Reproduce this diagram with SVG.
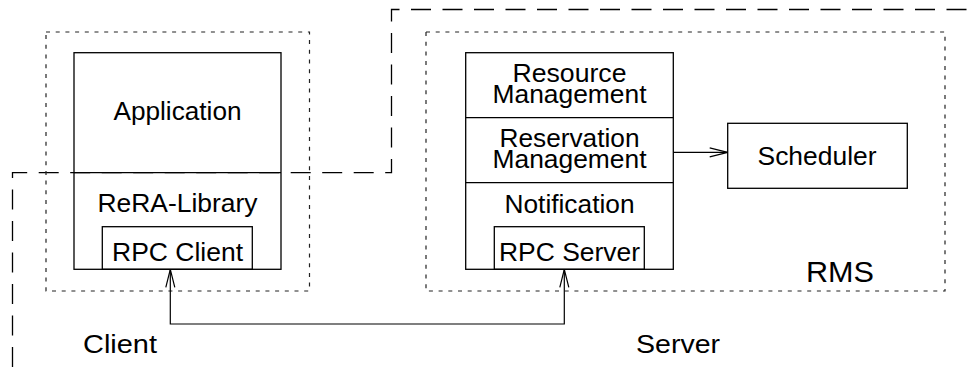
<svg xmlns="http://www.w3.org/2000/svg" width="972" height="367" viewBox="0 0 972 367">
  <style>
    .box { fill: none; stroke: #000; stroke-width: 1.3; }
    .dot { fill: none; stroke: #222; stroke-width: 1.2; stroke-dasharray: 4 5.7; }
    .dash { fill: none; stroke: #000; stroke-width: 1.3; stroke-dasharray: 20 11.5; }
    .conn { fill: none; stroke: #000; stroke-width: 1.2; }
    text { font-family: "Liberation Sans", Arial, Helvetica, sans-serif; font-size: 25px; fill: #000; text-anchor: middle; }
  </style>
  <defs>
    <marker id="open" viewBox="0 0 20 12" refX="19" refY="6" markerWidth="20" markerHeight="12" markerUnits="userSpaceOnUse" orient="auto-start-reverse">
      <path d="M1,1.5 L19,6 L1,10.5" fill="none" stroke="#000" stroke-width="1.2"/>
    </marker>
  </defs>

  <!-- Machine boundary (long dashes) -->
  <path class="dash" d="M12.5,367 L12.5,172.7 L391.5,172.7 L391.5,9.5 L972,9.5"/>

  <!-- Client side -->
  <g id="client-area">
    <rect class="dot" x="46" y="32" width="263.5" height="259"/>
    <text x="120" y="352.7" textLength="74" lengthAdjust="spacingAndGlyphs">Client</text>
  </g>
  <g id="application">
    <rect class="box" x="74" y="52.7" width="207" height="216.6"/>
    <line class="box" x1="74" y1="172.7" x2="281" y2="172.7" stroke-width="1.8"/>
    <text x="177.5" y="120" textLength="128" lengthAdjust="spacingAndGlyphs">Application</text>
    <text x="177.5" y="212.3" textLength="160" lengthAdjust="spacingAndGlyphs">ReRA-Library</text>
  </g>
  <g id="rpc-client">
    <rect class="box" x="102.3" y="226.7" width="150" height="42.6"/>
    <text x="177.5" y="260.7" textLength="131" lengthAdjust="spacingAndGlyphs">RPC Client</text>
  </g>

  <!-- Server side -->
  <g id="rms">
    <rect class="dot" x="426" y="32" width="519" height="259"/>
    <text x="840" y="281.7" style="font-size:30px" textLength="68" lengthAdjust="spacingAndGlyphs">RMS</text>
  </g>
  <g id="server-label">
    <text x="678" y="352.7" textLength="84" lengthAdjust="spacingAndGlyphs">Server</text>
  </g>
  <g id="rms-stack">
    <rect class="box" x="465.7" y="52.7" width="207.6" height="216.6"/>
    <line class="box" x1="465.7" y1="117.7" x2="673.3" y2="117.7"/>
    <line class="box" x1="465.7" y1="182.7" x2="673.3" y2="182.7"/>
    <text x="569.5" y="81.7" textLength="114" lengthAdjust="spacingAndGlyphs">Resource</text>
    <text x="569.5" y="103.3" textLength="154" lengthAdjust="spacingAndGlyphs">Management</text>
    <text x="569.5" y="146.7" textLength="140" lengthAdjust="spacingAndGlyphs">Reservation</text>
    <text x="569.5" y="168.3" textLength="154" lengthAdjust="spacingAndGlyphs">Management</text>
    <text x="569.5" y="212.7" textLength="130" lengthAdjust="spacingAndGlyphs">Notification</text>
  </g>
  <g id="rpc-server">
    <rect class="box" x="494.3" y="226.7" width="150" height="42.6"/>
    <text x="569.5" y="260.7" textLength="141" lengthAdjust="spacingAndGlyphs">RPC Server</text>
  </g>
  <g id="scheduler">
    <rect class="box" x="727.7" y="123.3" width="179.6" height="65"/>
    <text x="817" y="165" textLength="119" lengthAdjust="spacingAndGlyphs">Scheduler</text>
  </g>

  <!-- Connectors -->
  <g id="connectors">
    <path class="conn" d="M170.3,269.3 L170.3,324 L564.3,324 L564.3,269.3" marker-start="url(#open)" marker-end="url(#open)"/>
    <path class="conn" d="M673.3,152.3 L727.7,152.3" marker-end="url(#open)"/>
  </g>
</svg>
